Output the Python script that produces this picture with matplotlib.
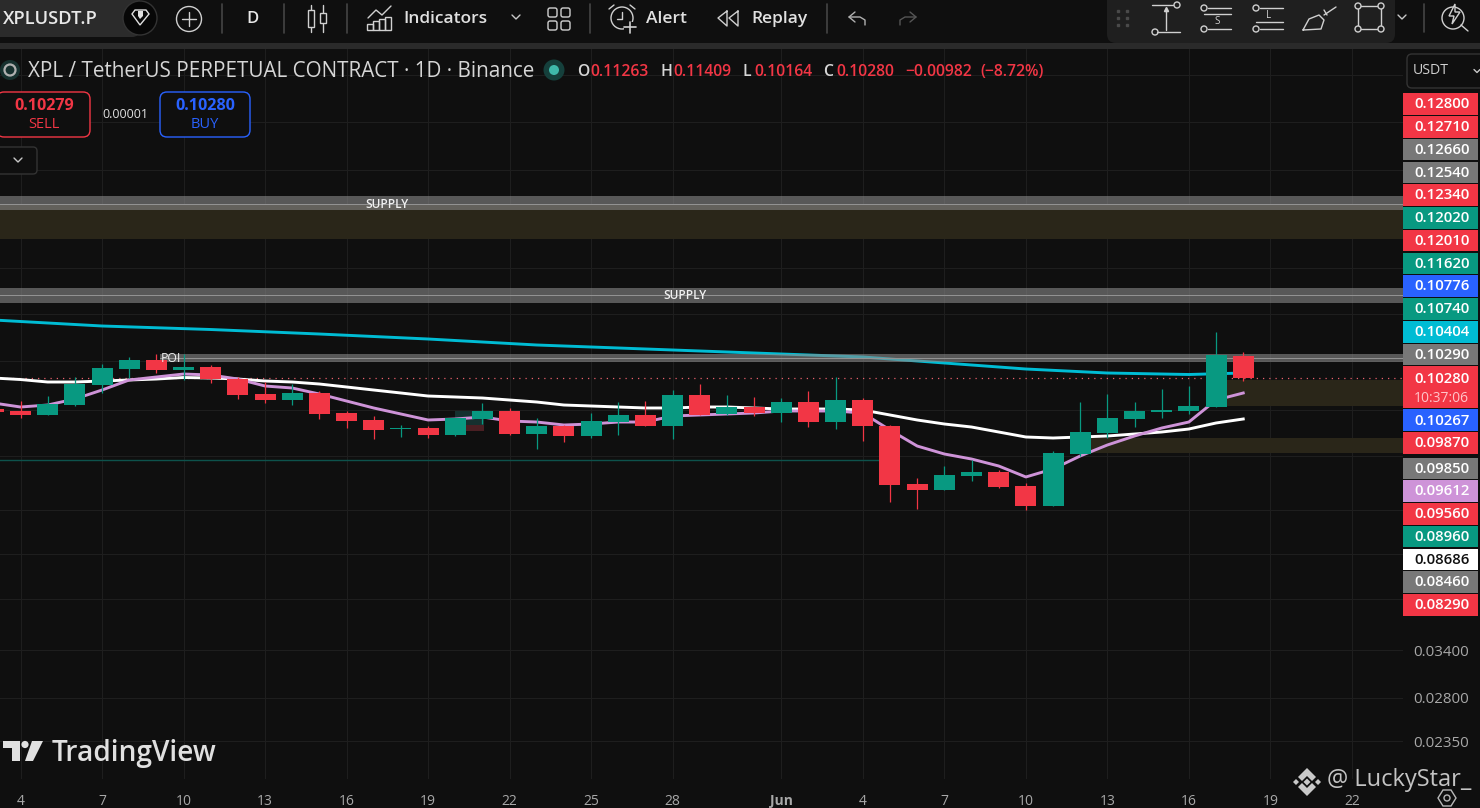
import numpy as np
import matplotlib
matplotlib.use("Agg")
import matplotlib.pyplot as plt
from matplotlib.patches import Rectangle, FancyBboxPatch, Circle, Polygon
from matplotlib.ticker import NullLocator

plt.rcParams['font.family'] = ['Open Sans', 'DejaVu Sans']

# daily candles, 3 May .. 18 Jun
days = list(range(-1, 46))
opens = [.09063, .08990, .08845, .09211, .09991, .10663, .11061, .10620, .10750, .10238,
         .09632, .09400, .09672, .08917, .08667, .08355, .08389, .08154, .08702, .08990,
         .08187, .08458, .08121, .08596, .08845, .08458, .09593, .08881, .09137, .08917,
         .09324, .08596, .09400, .08458, .06682, .06521, .06903, .07016, .06628, .06109,
         .07548, .08221, .08702, .08953, .08990, .09137, .11263]
highs = [.09100, .09362, .09554, .10322, .10882, .11197, .11334, .11334, .10838, .10322,
         .10114, .10032, .09751, .08990, .08809, .08492, .08458, .08737, .09287, .09100,
         .08737, .08492, .08917, .09324, .09362, .09790, .10032, .09593, .09516, .09477,
         .09751, .10322, .09477, .08492, .06847, .07189, .07366, .07074, .06709, .07641,
         .09324, .09632, .09324, .09830, .09951, .12394, .11409]
lows = [.08917, .08737, .08845, .09174, .09672, .10280, .10491, .10197, .10073, .09439,
        .09287, .09211, .08702, .08389, .08023, .08088, .08055, .08121, .08527, .08154,
        .07703, .07925, .08055, .08154, .08458, .08023, .08845, .08845, .08809, .08596,
        .08423, .08355, .07958, .06210, .06034, .06521, .06764, .06574, .06010, .06109,
        .07487, .08055, .08423, .08737, .08881, .09137, .10164]
closes = [.08953, .08845, .09249, .10032, .10707, .11061, .10620, .10750, .10238, .09593,
          .09400, .09672, .08881, .08631, .08321, .08389, .08154, .08737, .08990, .08187,
          .08458, .08121, .08631, .08845, .08458, .09593, .08845, .09137, .08917, .09324,
          .08596, .09400, .08458, .06655, .06521, .06931, .07016, .06601, .06109, .07579,
          .08254, .08737, .08990, .09026, .09174, .11288, .10280]

ma_white = [.10280, .10217, .10114, .10114, .10155, .10197, .10238, .10301, .10280, .10238,
            .10155, .10114, .10032, .09911, .09790, .09672, .09554, .09516, .09477, .09400,
            .09324, .09211, .09174, .09137, .09100, .09100, .09137, .09137, .09100, .09063,
            .09063, .09063, .09026, .08845, .08667, .08527, .08423, .08254, .08088, .08055,
            .08088, .08121, .08187, .08254, .08355, .08562, .08702]
ma_purple = [.09287, .09137, .09211, .09439, .09790, .10197, .10322, .10448, .10406, .10238,
             .09951, .09870, .09632, .09362, .09100, .08881, .08667, .08702, .08773, .08631,
             .08596, .08492, .08527, .08596, .08596, .08809, .08845, .08881, .08917, .08990,
             .08990, .08990, .08917, .08321, .07797, .07548, .07396, .07189, .06875, .07102,
             .07487, .07829, .08121, .08389, .08596, .09400, .09672]
ma_cyan_days = [-1, 3, 7, 11, 15, 19, 23, 27, 31, 34, 37, 40, 43, 45]
ma_cyan = [.13014, .12700, .12520, .12293, .12046, .11756, .11567, .11380, .11197, .10927,
           .10663, .10491, .10427, .10491]

tick_days = [0, 3, 6, 9, 12, 15, 18, 21, 24, 28, 31, 34, 37, 40, 43, 46, 49]
tick_names = ['4', '7', '10', '13', '16', '19', '22', '25', '28', 'Jun', '4', '7', '10', '13', '16', '19', '22']
grid_prices = [.3523, .2910, .2394, .1907, .1608, .1333, .1102, .0903, .0750, .0601, .0502, .0419,
               .0340, .0280, .0235]
scale_prices = {.0340: '0.03400', .0280: '0.02800', .0235: '0.02350'}

tag_values = ['0.12800', '0.12710', '0.12660', '0.12540', '0.12340', '0.12020', '0.12010', '0.11620',
              '0.10776', '0.10740', '0.10404', '0.10290', '0.10280', '', '0.10267', '0.09870',
              '0.09850', '0.09612', '0.09560', '0.08960', '0.08686', '0.08460', '0.08290']

RED = '#f23645'
GREEN = '#089981'
GREY = '#787878'
BLUE = '#2962ff'
CYAN = '#00bcd4'
PURPLE = '#ce93d8'
BG = '#0f0f0f'
TXT = '#d6d6d6'
OLIVE = '#2a2619'
tag_colors = [RED, RED, GREY, GREY, RED, GREEN, RED, GREEN, BLUE, GREEN, CYAN, GREY, RED, None,
              BLUE, RED, GREY, PURPLE, RED, GREEN, 'white', GREY, RED]

fig = plt.figure(figsize=(14.8, 8.08), dpi=100, facecolor=BG)
ax = fig.add_axes([0, (808 - 779) / 808, 1403 / 1480, (779 - 49) / 808], facecolor=BG)
ax.set_yscale('log')
ax.set_xlim(-0.7545, 50.88)
ax.set_ylim(.020141, .39157)
for s in ax.spines.values():
    s.set_visible(False)

ax.set_xticks(tick_days)
ax.set_xticklabels(tick_names)
ax.set_yticks(grid_prices)
ax.set_yticklabels([scale_prices.get(p, '') for p in grid_prices])
ax.yaxis.set_minor_locator(NullLocator())
ax.yaxis.tick_right()
ax.tick_params(axis='both', length=0, labelcolor='#a8a8a8')
ax.tick_params(axis='x', pad=10.5, labelsize=10)
ax.tick_params(axis='y', pad=7.5, labelsize=10.8)
ax.get_xticklabels()[9].set_fontweight('bold')
ax.grid(True, color='#1e1e1e', linewidth=0.8, zorder=0)
ax.set_axisbelow(True)

# moving averages, the long one sits under the zones
ax.plot(ma_cyan_days, ma_cyan, color=CYAN, linewidth=2.1, zorder=2)
ax.plot(days, ma_white, color='white', linewidth=2.1, zorder=4)
ax.plot(days, ma_purple, color=PURPLE, linewidth=2.1, zorder=4)

# zones
ax.axhspan(.18089, .20853, color=OLIVE, linewidth=0, zorder=1)
ax.axhspan(.20350, .21542, color='#8a8a8a', alpha=0.6, linewidth=0, zorder=3)
ax.axhline(.20853, color='#949494', linewidth=0.7, zorder=3)
ax.axhspan(.13945, .14821, color='#8a8a8a', alpha=0.6, linewidth=0, zorder=3)
ax.axhline(.14405, color='#949494', linewidth=0.7, zorder=3)
ax.fill_between([5.14, 50.88], .10971, .11334, color='#8a8a8a', alpha=0.6, linewidth=0, zorder=3)
ax.plot([5.14, 50.88], [.11151, .11151], color='#949494', linewidth=0.7, zorder=3)
ax.fill_between([44.37, 50.88], .09174, .10197, color=OLIVE, linewidth=0, zorder=1)
ax.fill_between([39.36, 50.88], .07579, .08055, color=OLIVE, linewidth=0, zorder=1)
ax.plot([-0.75, 31.6], [.07366, .07366], color='#0d524c', linewidth=1, zorder=2)
ax.fill_between([16, 17.05], .08492, .08990, color='#15302f', linewidth=0, zorder=2)
ax.fill_between([16, 17.05], .08288, .08492, color='#4a1f23', linewidth=0, zorder=2)
ax.axhline(.10280, color='#e8606c', linewidth=0.9, linestyle=(0, (1, 4)), zorder=3)

# candles
bar_colors = [GREEN if c >= o else RED for o, c in zip(opens, closes)]
body_lo = [min(o, c) for o, c in zip(opens, closes)]
body_hi = [max(o, c) for o, c in zip(opens, closes)]
ax.vlines(days, lows, highs, colors=bar_colors, linewidth=0.9, zorder=5)
ax.bar(days, np.array(body_hi) - np.array(body_lo), bottom=body_lo, width=0.773,
       color=bar_colors, linewidth=0, zorder=5)

ax.text(13.47, .2078, 'SUPPLY', color='#f0f0f0', fontsize=8.6, fontweight='semibold', ha='center', va='center', zorder=6)
ax.text(24.47, .1436, 'SUPPLY', color='#f0f0f0', fontsize=8.6, fontweight='semibold', ha='center', va='center', zorder=6)
ax.text(5.55, .1112, 'POI', color='#f0f0f0', fontsize=8.8, ha='center', va='center', zorder=6)

# everything of the terminal around the chart, in screen pixels
ui = fig.add_axes([0, 0, 1, 1], facecolor='none')
ui.set_xlim(0, 1480)
ui.set_ylim(808, 0)
ui.axis('off')


def line(xs, ys, color='#d0d0d0', lw=1.0):
    ui.plot(xs, ys, color=color, linewidth=lw, solid_capstyle='round')


def ring(x, y, r, color='#d0d0d0', lw=1.0, fill='none'):
    ui.add_patch(Circle((x, y), r, facecolor=fill, edgecolor=color, linewidth=lw))


def box(x, y, w, h, color, edge='none', rad=4, lw=1.0):
    ui.add_patch(FancyBboxPatch((x + rad, y + rad), w - 2 * rad, h - 2 * rad,
                                boxstyle='round,pad=%d' % rad, facecolor=color, edgecolor=edge, linewidth=lw))


def chevron(x, y, s=4, color='#c8c8c8'):
    line([x - s, x, x + s], [y - s / 2, y + s / 2, y - s / 2], color, 1.0)


ui.add_patch(Rectangle((0, 0), 1480, 43, facecolor=BG, edgecolor='none'))
ui.add_patch(Rectangle((0, 43), 1480, 6, facecolor='#2a2a2a', edgecolor='none'))
box(-10, -10, 150, 47, '#2b2b2b', rad=8)
ring(140, 18, 17, '#333333', 1.0, '#070707')
ui.add_patch(Polygon([(132, 14), (135, 10), (146, 10), (149, 14), (140, 25)], closed=True,
                     facecolor='none', edgecolor='#e0e0e0', linewidth=1))
ui.add_patch(Polygon([(138, 11), (143, 11), (143, 16), (140, 19), (138, 16)], closed=True,
                     facecolor='#e0e0e0', edgecolor='none'))
ui.text(3, 19, 'XPLUSDT.P', color='#e8e8e8', fontsize=13.2, fontweight='semibold', va='center')
ring(189, 19, 12.5)
line([182, 196], [19, 19])
line([189, 189], [12, 26])
for sx in (222, 284, 347, 590, 827):
    line([sx, sx], [4, 33], '#444444', 1.2)
ui.text(253, 19, 'D', color='#e8e8e8', fontsize=12, fontweight='semibold', ha='center', va='center')
# candle icon
for cx, top, bot in ((311, 10, 27), (323, 13, 23)):
    line([cx, cx], [5, 32])
    ui.add_patch(Rectangle((cx - 3, top), 6, bot - top, facecolor=BG, edgecolor='#d0d0d0', linewidth=1, zorder=3))
# indicators icon
line([368, 376, 382, 391], [18, 10, 15, 6])
for ix, itop in ((370, 24), (376, 21), (382, 19), (388, 17)):
    ui.add_patch(Rectangle((ix - 3, itop), 6, 30 - itop, facecolor='none', edgecolor='#d0d0d0', linewidth=1))
ui.text(403, 19, 'Indicators', color='#e0e0e0', fontsize=12.5, fontweight='semibold', va='center')
chevron(516, 17)
for gx in (552, 565):
    for gy in (12, 25):
        box(gx - 4, gy - 4, 9, 9, 'none', '#d0d0d0', rad=2)
ring(622, 18, 11)
line([622, 622, 617], [12, 19, 19])
line([609, 614], [9, 5])
line([630, 635], [5, 9])
ui.add_patch(Rectangle((624, 22), 14, 10, facecolor=BG, edgecolor='none', zorder=3))
line([630, 630], [22, 33], lw=1.2)
line([624, 636], [27, 27], lw=1.2)
ui.lines[-1].set_zorder(4)
ui.lines[-2].set_zorder(4)
ui.text(646, 19, 'Alert', color='#e0e0e0', fontsize=12.5, fontweight='semibold', va='center')
line([727, 718, 727, 727], [11, 18, 26, 11])
line([738, 729, 738, 738], [11, 18, 26, 11])
ui.text(751, 19, 'Replay', color='#e0e0e0', fontsize=12.5, fontweight='semibold', va='center')
line([855, 849, 855], [12, 17, 22], '#b0b0b0')
line([849, 860, 865, 865], [17, 17, 20, 25], '#b0b0b0')
line([910, 916, 910], [12, 17, 22], '#555555')
line([916, 905, 900, 900], [17, 17, 20, 25], '#555555')

# floating drawing bar
box(1107, -12, 288, 55, '#1f1f1f', rad=9)
for dx in (1118, 1127):
    for dy in (11, 18, 25):
        ui.plot([dx], [dy], 's', color='#4a4a4a', markersize=1.8)
line([1152, 1173], [5, 5])
ring(1177, 5, 3)
line([1157, 1180], [32, 32])
ring(1155, 32, 3)
line([1166, 1166], [9, 30])
ui.plot([1166], [9], '^', color='#d0d0d0', markersize=3)
for ox, letter, ly, ty in ((1204, 'S', 14, 22), (1256, 'L', 22, 16)):
    line([ox + 4, ox + 27], [8, 8])
    ring(ox, 8, 3)
    line([ox, ox + 27], [ly, ly])
    line([ox + 4, ox + 27], [29, 29])
    ring(ox, 29, 3)
    ui.text(ox + 13, ty, letter, color='#d0d0d0', fontsize=7, ha='center', va='center')
line([1303, 1309, 1319, 1324, 1321, 1303], [30, 19, 15, 20, 29, 30])
line([1324, 1336], [15, 7])
line([1324, 1327], [10, 15])
ui.add_patch(Rectangle((1358, 6), 23, 23, facecolor='none', edgecolor='#d0d0d0', linewidth=1))
for qx in (1358, 1381):
    for qy in (6, 29):
        ring(qx, qy, 3, fill='#1f1f1f')
chevron(1402, 17)
line([1424, 1424], [4, 32], '#444444', 1.2)
ring(1453, 18, 11)
line([1461, 1468], [25, 31])
ui.add_patch(Polygon([(1455, 4), (1449, 16), (1454, 16), (1452, 24), (1460, 12), (1455, 12)], closed=True,
                     facecolor=BG, edgecolor='#d0d0d0', linewidth=1, zorder=3))

# header
ring(10, 70, 10, 'none', 0, '#17312f')
ring(10, 70, 5.5, '#b0b0b0', 1.6)
ui.text(28, 71.5, 'XPL / TetherUS PERPETUAL CONTRACT · 1D · Binance', color=TXT, fontsize=14.9, va='center')
ring(554, 70, 10.5, 'none', 0, '#15403c')
ring(554, 70, 5, 'none', 0, '#3fb8aa')
for px, ptext, pcolor in ((577, 'O', TXT), (590, '0.11263', RED), (660, 'H', TXT), (673, '0.11409', RED),
                          (743, 'L', TXT), (754, '0.10164', RED), (823, 'C', TXT), (836, '0.10280', RED),
                          (905, '−0.00982', RED), (980, '(−8.72%)', RED)):
    ui.text(px, 71.5, ptext, color=pcolor, fontsize=11.3, fontweight='semibold', va='center')

box(-3, 92, 93, 45, BG, RED, rad=7)
ui.text(44, 106, '0.10279', color=RED, fontsize=11.6, fontweight='bold', ha='center', va='center')
ui.text(44, 124, 'SELL', color=RED, fontsize=10.5, ha='center', va='center')
ui.text(125, 114, '0.00001', color='#e0e0e0', fontsize=9, ha='center', va='center')
box(160, 92, 90, 45, BG, BLUE, rad=7)
ui.text(205, 106, '0.10280', color=BLUE, fontsize=11.6, fontweight='bold', ha='center', va='center')
ui.text(205, 124, 'BUY', color=BLUE, fontsize=10.5, ha='center', va='center')
box(-6, 147, 43, 27, BG, '#333333', rad=4)
chevron(18, 160)

# price scale tags, the two under the countdown sit a bit closer
box(1407, 54, 80, 34, BG, '#333333', rad=5)
ui.text(1413, 71, 'USDT', color='#cfcfcf', fontsize=10.2, va='center')
chevron(1477, 71, 3)
for i, (val, col) in enumerate(zip(tag_values, tag_colors)):
    if col is None:
        continue
    yc = 104 + 22.77 * i - (2.5 if i in (14, 15) else 0)
    top, height = yc - 10.8, 21.6
    if val == '0.10280':
        top, height = 366, 41.5
        yc = 379
        ui.text(1441, 398.5, '10:37:06', color='#ffc4c9', fontsize=10, ha='center', va='center', zorder=6)
    ui.add_patch(Rectangle((1403, top), 75, height, facecolor=col, edgecolor='none', zorder=5))
    ui.text(1442, yc + 0.3, val, color='#0f0f0f' if col == 'white' else 'white', fontsize=10.8,
            fontweight='semibold', ha='center', va='center', zorder=6)

# watermarks
ui.add_patch(Polygon([(3, 741), (20, 741), (20, 761), (12, 761), (12, 748), (3, 748)], closed=True,
                     facecolor='#e0e0e0', edgecolor='none'))
ring(25, 744.5, 3.6, 'none', 0, '#e0e0e0')
ui.add_patch(Polygon([(32, 741), (43, 741), (33, 761), (25, 761)], closed=True, facecolor='#e0e0e0', edgecolor='none'))
ui.text(52, 753, 'TradingView', color='#e0e0e0', fontsize=20.2, fontweight='semibold', va='center')
# binance mark
ui.add_patch(Polygon([(1307, 768), (1316, 777), (1312, 781), (1307, 776), (1302, 781), (1298, 777)], closed=True,
                     facecolor='#c9c9c9', edgecolor='none'))
ui.add_patch(Polygon([(1307, 796), (1316, 787), (1312, 783), (1307, 788), (1302, 783), (1298, 787)], closed=True,
                     facecolor='#c9c9c9', edgecolor='none'))
for mx, ms in ((1296, 3), (1318, 3), (1307, 3.5)):
    ui.add_patch(Polygon([(mx - ms, 782), (mx, 782 - ms), (mx + ms, 782), (mx, 782 + ms)], closed=True,
                         facecolor='#c9c9c9', edgecolor='none'))
ui.text(1327, 780, '@ LuckyStar_', color='#c4c4c4', fontsize=17, va='center', zorder=7)
hx = 1447
ui.add_patch(Polygon([(hx - 9, 798), (hx - 4, 790), (hx + 4, 790), (hx + 9, 798), (hx + 4, 806), (hx - 4, 806)],
                     closed=True, facecolor='none', edgecolor='#b8b8b8', linewidth=1))
ring(hx, 798, 3, '#b8b8b8')

fig.savefig('out.png', dpi=100, facecolor=BG)
